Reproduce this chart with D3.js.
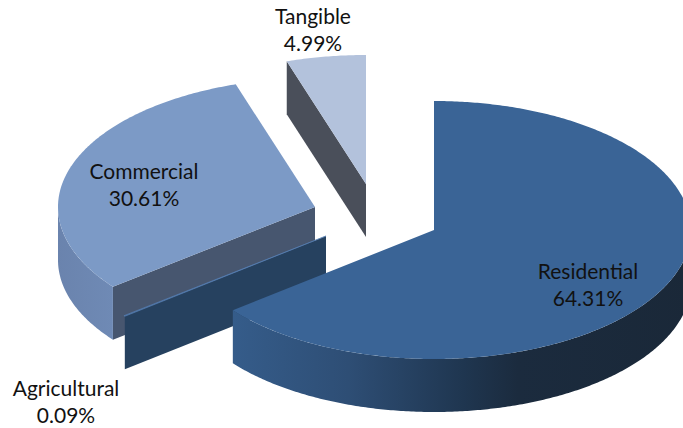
<!DOCTYPE html>
<html>
<head>
<meta charset="utf-8">
<script src="https://cdn.jsdelivr.net/npm/d3@7"></script>
<style>
html, body { margin: 0; padding: 0; background: #fff; overflow: hidden; }
text { font-family: Lato, "Open Sans", sans-serif; font-size: 21px; fill: #111; text-anchor: middle; }
</style>
</head>
<body>
<svg id="chart" width="683" height="428"></svg>
<script>
// values in pie order, clockwise from 12 o'clock
var categories = ["Residential", "Agricultural", "Commercial", "Tangible"];
var shares = [64.31, 0.09, 30.61, 4.99];
var shareLabels = ["64.31%", "0.09%", "30.61%", "4.99%"];

// where each exploded slice has its tip, and its label
var centerX = [434, 326, 315, 366];
var centerY = [230, 236, 207, 184];
var labelX = [588, 66, 144, 313];
var labelY = [270, 387, 170, 15];
var topColors = ["#3a6496", "#3a6496", "#7c9ac6", "#b3c2dc"];
var cutColors = ["#2a4566", "#26415f", "#47566f", "#4a4f5a"];
var drawOrder = [3, 2, 1, 0];

var rx = 257, ry = 129, depth = 53;
var svg = d3.select("#chart");

var px = d3.scaleLinear().domain([-1, 1]).range([-rx, rx]);
var py = d3.scaleLinear().domain([-1, 1]).range([-ry, ry]);
var line = d3.line();

var slices = d3.pie().sort(null).startAngle(0).endAngle(2 * Math.PI)(shares);

// point on the rim, a is clockwise from the top
function rim(i, a, drop) {
	return [centerX[i] + px(Math.sin(a)), centerY[i] + py(-Math.cos(a)) + drop];
}

function arcPoints(i, a0, a1, drop) {
	var n = Math.max(2, Math.ceil((a1 - a0) / 0.01));
	return d3.range(n + 1).map(function(k) {
		return rim(i, a0 + (a1 - a0) * k / n, drop);
	});
}

// gradients for the curved walls
var defs = svg.append("defs");
function wallGradient(id, x1, x2, stops) {
	var g = defs.append("linearGradient").attr("id", id)
		.attr("gradientUnits", "userSpaceOnUse")
		.attr("x1", x1).attr("x2", x2).attr("y1", 0).attr("y2", 0);
	stops.forEach(function(s) {
		g.append("stop").attr("offset", s[0]).attr("stop-color", s[1]);
	});
}
wallGradient("wall0", 233, 693, [[0, "#355c8a"], [0.25, "#2e4e75"], [0.5, "#1f3650"], [0.62, "#1b2b3e"], [1, "#1a2838"]]);
wallGradient("wall2", 56, 113, [[0, "#6a83ad"], [1, "#6f8ab5"]]);

drawOrder.forEach(function(i) {
	var s = slices[i];
	var tip = [centerX[i], centerY[i]];
	var g = svg.append("g").attr("class", "slice");

	// cut faces, only the ones that turn towards the viewer
	if (Math.sin(s.startAngle) < -0.001) {
		var p = rim(i, s.startAngle, 0);
		g.append("path")
			.attr("d", line([tip, p, [p[0], p[1] + depth], [tip[0], tip[1] + depth]]) + "Z")
			.attr("fill", cutColors[i]);
	}

	// outer wall, front half of the ellipse only
	var a0 = Math.max(s.startAngle, Math.PI / 2), a1 = Math.min(s.endAngle, 3 * Math.PI / 2);
	if (a1 > a0 && i !== 1) {
		var upper = arcPoints(i, a0, a1, 0);
		var lower = arcPoints(i, a0, a1, depth).reverse();
		g.append("path")
			.attr("d", line(upper.concat(lower)) + "Z")
			.attr("fill", "url(#wall" + i + ")");
	}

	// top face
	var face = g.append("path")
		.attr("d", line([tip].concat(arcPoints(i, s.startAngle, s.endAngle, 0))) + "Z")
		.attr("fill", topColors[i]);
	if (i === 1) face.attr("stroke", "#5c85b8").attr("stroke-width", 0.6);
});

categories.forEach(function(c, i) {
	var t = svg.append("text").attr("x", labelX[i]).attr("y", labelY[i]).attr("dominant-baseline", "central");
	t.text(c);
	svg.append("text").attr("x", labelX[i]).attr("y", labelY[i] + 27).attr("dominant-baseline", "central").text(shareLabels[i]);
});
</script>
</body>
</html>
